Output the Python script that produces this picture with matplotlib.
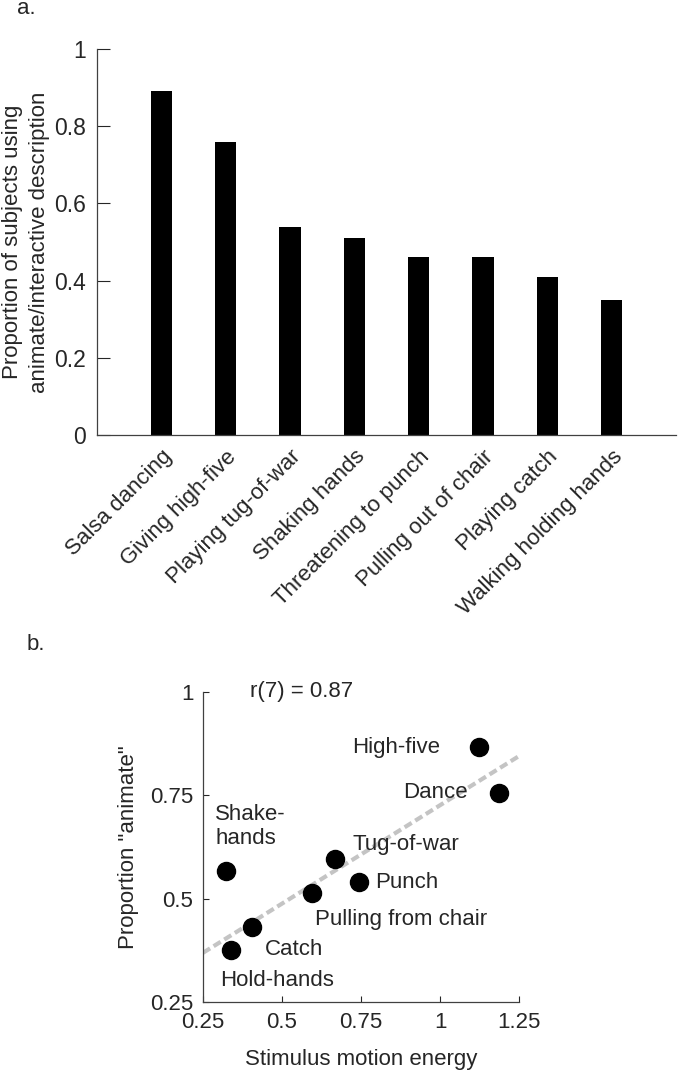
import numpy as np
import matplotlib
matplotlib.use('Agg')
import matplotlib.pyplot as plt
from matplotlib.ticker import FormatStrFormatter

plt.rcParams['font.family'] = ['Liberation Sans', 'DejaVu Sans']
plt.rcParams['text.color'] = '#262626'
plt.rcParams['axes.labelcolor'] = '#262626'
plt.rcParams['xtick.color'] = '#262626'
plt.rcParams['ytick.color'] = '#262626'

# panel a - proportion of subjects per stimulus
actions = ['Salsa dancing', 'Giving high-five', 'Playing tug-of-war', 'Shaking hands',
           'Threatening to punch', 'Pulling out of chair', 'Playing catch',
           'Walking holding hands']
prop_animate = [0.89, 0.76, 0.54, 0.51, 0.46, 0.46, 0.41, 0.35]

# panel b - motion energy vs proportion "animate"
stim_names = ['Shake-\nhands', 'Hold-hands', 'Catch', 'Pulling from chair',
              'Tug-of-war', 'Punch', 'High-five', 'Dance']
motion_energy = [0.324, 0.338, 0.404, 0.594, 0.668, 0.744, 1.123, 1.186]
prop_b = [0.568, 0.376, 0.432, 0.513, 0.595, 0.540, 0.866, 0.756]
fit_x = [0.25, 1.25]
fit_y = [0.369, 0.845]

# label offsets (pixels) and alignment for panel b
lbl_off = [(-11, 44, 'left'), (-11, -31, 'left'), (13, -23, 'left'), (3, -26, 'left'),
           (17, 15, 'left'), (16, 0, 'left'), (-39, 0, 'right'), (-31, 0, 'right')]

fs = 16

fig = plt.figure(figsize=(6.78, 10.74), dpi=100)
W, H = 678, 1074

ax1 = fig.add_axes([97 / W, 1 - 435 / H, 579 / W, 386 / H])
x = np.arange(1, len(actions) + 1)
ax1.bar(x, prop_animate, width=0.33, color='black')
ax1.set_xlim(0, 9)
ax1.set_ylim(0, 1)
ax1.set_yticks([0, 0.2, 0.4, 0.6, 0.8, 1])
ax1.yaxis.set_major_formatter(FormatStrFormatter('%g'))
ax1.set_xticks(x)
ax1.set_xticklabels(actions, rotation=45, ha='right', va='top', rotation_mode='anchor', fontsize=fs)
ax1.tick_params(axis='x', length=0, pad=8)
ax1.tick_params(axis='y', direction='in', length=9, width=0.8, labelsize=16.5, pad=8)
ax1.set_ylabel('Proportion of subjects using\nanimate/interactive description', fontsize=fs,
               labelpad=3, linespacing=1.35)
for s in ['top', 'right']:
    ax1.spines[s].set_visible(False)
for s in ['left', 'bottom']:
    ax1.spines[s].set_color('#404040')
    ax1.spines[s].set_linewidth(0.9)

ax2 = fig.add_axes([203 / W, 1 - 1002 / H, 316 / W, 310 / H])
ax2.plot(fit_x, fit_y, linestyle=(0, (2, 1)), color='#c4c4c4', linewidth=3, zorder=1)
ax2.plot(motion_energy, prop_b, 'o', color='black', markersize=13, zorder=2)
for i, name in enumerate(stim_names):
    dx, dy, ha = lbl_off[i]
    ax2.annotate(name, (motion_energy[i], prop_b[i]), xytext=(dx * 0.72, dy * 0.72),
                 textcoords='offset points', ha=ha, va='center', fontsize=fs,
                 linespacing=1.2)
ax2.text(0.4, 1.0, 'r(7) = 0.87', fontsize=fs, va='center', ha='left')
ax2.set_xlim(0.25, 1.25)
ax2.set_ylim(0.25, 1)
ax2.set_xticks([0.25, 0.5, 0.75, 1, 1.25])
ax2.set_yticks([0.25, 0.5, 0.75, 1])
ax2.xaxis.set_major_formatter(FormatStrFormatter('%g'))
ax2.yaxis.set_major_formatter(FormatStrFormatter('%g'))
ax2.tick_params(direction='in', length=4, width=0.8, labelsize=fs, pad=7)
ax2.set_xlabel('Stimulus motion energy', fontsize=fs, labelpad=12)
ax2.set_ylabel('Proportion "animate"', fontsize=fs, labelpad=8)
for s in ['top', 'right']:
    ax2.spines[s].set_visible(False)
for s in ['left', 'bottom']:
    ax2.spines[s].set_color('#404040')
    ax2.spines[s].set_linewidth(0.9)

fig.text(17 / W, 1 - 9 / H, 'a.', fontsize=fs, va='center', ha='left')
fig.text(27 / W, 1 - 644 / H, 'b.', fontsize=fs, va='center', ha='left')

fig.savefig('out.png', dpi=100)
